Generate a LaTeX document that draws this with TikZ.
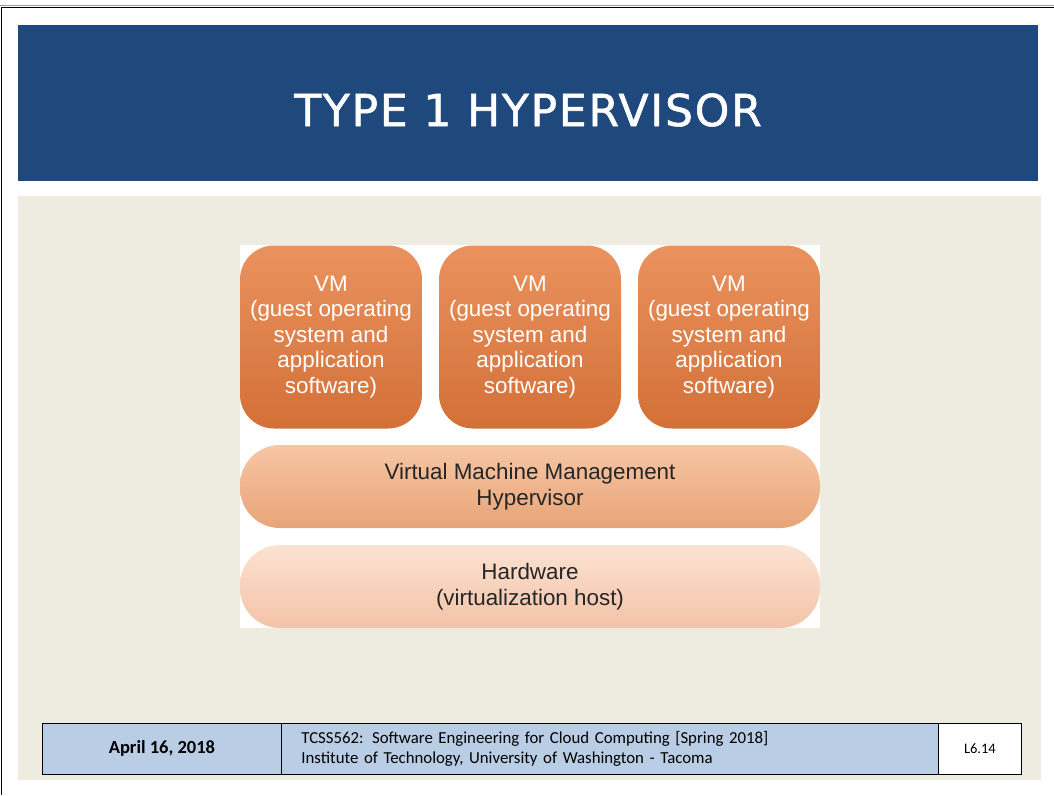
\documentclass[tikz,border=0pt]{standalone}
\usepackage{fontspec}
\setmainfont{Liberation Sans}
\newfontfamily\titlefont[LetterSpace=4,FakeBold=1.2]{DejaVu Sans}
\newfontfamily\footfont{Carlito}
\definecolor{titleblue}{RGB}{31,73,125}
\definecolor{slidebeige}{RGB}{238,236,225}
\definecolor{footblue}{RGB}{185,205,229}
\definecolor{vmtop}{RGB}{234,146,94}
\definecolor{vmmid}{RGB}{239,160,110}
\definecolor{vmbot}{RGB}{211,112,56}
\definecolor{hvtop}{RGB}{247,198,164}
\definecolor{hvbot}{RGB}{232,164,120}
\definecolor{hwtop}{RGB}{252,226,210}
\definecolor{hwbot}{RGB}{243,195,167}
\begin{document}
\begin{tikzpicture}[x=1pt,y=-1pt,
  vmbox/.style={minimum width=182pt,minimum height=183pt,rounded corners=34pt,
    top color=vmtop,middle color=vmmid,bottom color=vmbot,
    text=white,align=center,font=\fontsize{22.4}{25.5}\selectfont,inner sep=0pt},
  layerbar/.style={minimum width=580pt,minimum height=83pt,rounded corners=40pt,
    text=black!85,align=center,font=\fontsize{22.4}{26}\selectfont,inner sep=0pt},
  footcell/.style={draw=black,line width=0.8pt,inner sep=0pt,anchor=north west}]
\useasboundingbox (0,0) rectangle (1054,795);
\fill[white] (0,0) rectangle (1054,795);
% slide frame
\draw[black!40,line width=0.8pt] (0,5.5) -- (1054,5.5);
\draw[black,line width=1.6pt] (1.5,795) -- (1.5,7.5) -- (1054,7.5);
% title bar
\fill[titleblue] (18,25) rectangle (1038,181);
\node[text=white,font=\titlefont\fontsize{44}{44}\selectfont] (title) at (528,110) {TYPE 1 HYPERVISOR};
% content area
\fill[slidebeige] (18,196) rectangle (1041,780);
\fill[white] (240,245) rectangle (820,628);
% virtual machines
\node[vmbox] (vm1) at (331,337) {VM\\(guest operating\\system and\\application\\software)};
\node[vmbox] (vm2) at (530,337) {VM\\(guest operating\\system and\\application\\software)};
\node[vmbox] (vm3) at (729,337) {VM\\(guest operating\\system and\\application\\software)};
% hypervisor and hardware layers
\node[layerbar,top color=hvtop,bottom color=hvbot] (hv) at (530,486.5) {Virtual Machine Management\\Hypervisor};
\node[layerbar,top color=hwtop,bottom color=hwbot] (hw) at (530,586.5) {Hardware\\(virtualization host)};
% footer
\node[footcell,fill=footblue,minimum width=239pt,minimum height=51pt,
  font=\footfont\bfseries\fontsize{18.5}{20}\selectfont] (date) at (42,723) {April 16, 2018};
\node[footcell,fill=footblue,minimum width=657pt,minimum height=51pt,
  font=\footfont\fontsize{16.8}{20}\selectfont,align=left,text width=617pt,inner xsep=20pt] (course) at (281,723)
  {TCSS562: Software Engineering for Cloud Computing [Spring 2018]\\Institute of Technology, University of Washington - Tacoma};
\node[footcell,fill=white,minimum width=83pt,minimum height=51pt,
  font=\footfont\fontsize{14.5}{16}\selectfont] (slideno) at (938,723) {L6.14};
\end{tikzpicture}
\end{document}
